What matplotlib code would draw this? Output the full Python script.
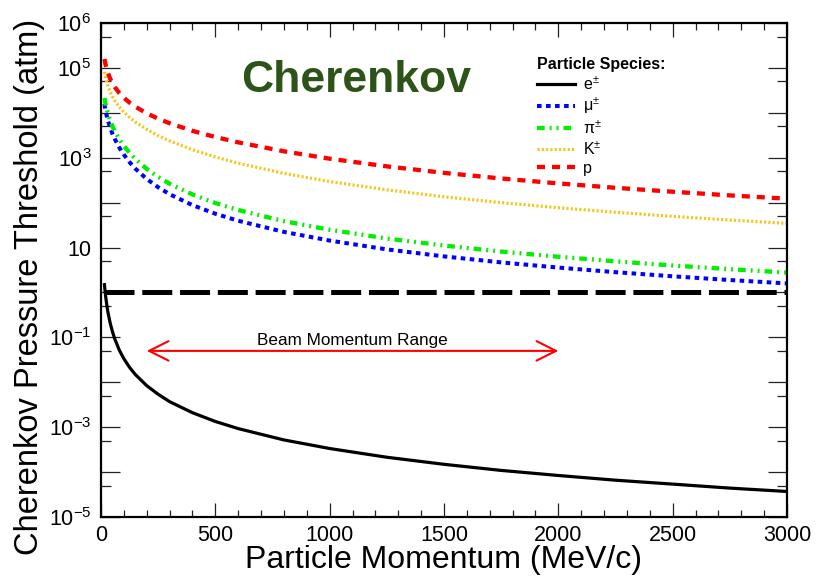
import numpy as np
import matplotlib
matplotlib.use("Agg")
from matplotlib import pyplot as plt
from matplotlib.ticker import FixedLocator, MultipleLocator, FixedFormatter

plt.rcParams['font.family'] = ['Liberation Sans', 'DejaVu Sans']
plt.rcParams['mathtext.fontset'] = 'custom'
plt.rcParams['mathtext.rm'] = 'Liberation Sans'
plt.rcParams['mathtext.it'] = 'Liberation Sans:italic'
plt.rcParams['mathtext.bf'] = 'Liberation Sans:bold'
plt.rcParams['lines.scale_dashes'] = False

# momentum points (MeV/c) and thresholds (atm)
momentum = [15, 20, 25, 30, 40, 50, 60, 80, 100, 125, 150, 200, 250, 300, 400,
            500, 600, 800, 1000, 1250, 1500, 1750, 2000, 2250, 2500, 2750, 3000]
electron = [1.49, 0.84, 0.54, 0.37, 0.21, 0.134, 0.093, 0.052, 0.0335, 0.0214,
            0.0149, 0.0084, 0.0054, 0.0037, 0.0021, 0.00134, 0.00093, 0.00052,
            3.35e-4, 2.14e-4, 1.49e-4, 1.09e-4, 8.4e-5, 6.6e-5, 5.4e-5, 4.4e-5, 3.7e-5]
muon = [15700, 11200, 8570, 6820, 4680, 3430, 2630, 1680, 1170, 793, 572, 336,
        220, 154, 88, 56.6, 39.5, 22.3, 14.3, 9.1, 6.35, 4.67, 3.58, 2.83, 2.29,
        1.89, 1.59]
pion = [21400, 15500, 12000, 9640, 6740, 5040, 3930, 2590, 1840, 1280, 938, 563,
        373, 264, 152, 98, 68.5, 38.7, 24.9, 15.9, 11.1, 8.14, 6.24, 4.93, 3.99,
        3.30, 2.77]
kaon = [81900, 60800, 48100, 39700, 29200, 22900, 18700, 13500, 10350, 7880,
        6260, 4270, 3110, 2370, 1510, 1040, 756, 449, 295, 193, 135, 100, 77,
        61, 49.5, 41, 34.5]
proton = [158000, 118000, 93700, 77700, 57600, 45600, 37600, 27600, 21600,
          16850, 13700, 9740, 7400, 5860, 3970, 2890, 2200, 1390, 952, 642, 460,
          345, 268, 214, 175, 145, 122.5]

ref_x = [15, 3000]
ref_y = [1.0, 1.0]
beam_range = [200, 2000]
beam_y = 0.05

y_major = [1e-5, 1e-4, 1e-3, 1e-2, 1e-1, 1, 10, 1e2, 1e3, 1e4, 1e5, 1e6]
y_labels = [r'$\mathregular{10^{-5}}$', '', r'$\mathregular{10^{-3}}$', '',
            r'$\mathregular{10^{-1}}$', '', '10', '', r'$\mathregular{10^{3}}$',
            '', r'$\mathregular{10^{5}}$', r'$\mathregular{10^{6}}$']
y_minor = [5e-5, 5e-4, 5e-3, 5e-2, 0.5, 5, 50, 5e2, 5e3, 5e4, 5e5]

fig = plt.figure(figsize=(8.27, 5.76), dpi=100)
ax = fig.add_axes([101/827, 1-517/576, 686/827, 494/576])

ax.plot(momentum, electron, color='black', lw=2.3, label=r'$\mathregular{e^{\pm}}$')
ax.plot(momentum, muon, color='#0000ff', lw=2.9, linestyle=(0, (3.3, 3.2)),
        label=r'$\mathregular{\mu^{\pm}}$')
ax.plot(momentum, pion, color='#00ee00', lw=3.1,
        linestyle=(0, (5.5, 3.6, 1.4, 3.6, 1.4, 3.6)), label=r'$\mathregular{\pi^{\pm}}$')
ax.plot(momentum, kaon, color='#f5c518', lw=2.3, linestyle=(0, (1.5, 1.6)),
        label=r'$\mathregular{K^{\pm}}$')
ax.plot(momentum, proton, color='#ff0000', lw=3.1, linestyle=(0, (5.8, 5.0)),
        label='p')
ax.plot(ref_x, ref_y, color='black', lw=3.6, linestyle=(0, (21.6, 5.6)))

ax.annotate('', xy=(beam_range[0], beam_y), xytext=(beam_range[1], beam_y),
            arrowprops=dict(arrowstyle='<->,head_length=0.7,head_width=0.35',
                            color='#ff0000', lw=1.5, mutation_scale=20,
                            shrinkA=0, shrinkB=0))
ax.text(1100, 0.085, 'Beam Momentum Range', fontsize=12.3, ha='center', va='center')

ax.text(1115, 5.3e4, 'Cherenkov', fontsize=32, fontweight='bold', color='#2d5418',
        ha='center', va='center')

ax.set_xscale('linear')
ax.set_yscale('log')
ax.set_xlim(0, 3000)
ax.set_ylim(1e-5, 1e6)

ax.xaxis.set_major_locator(MultipleLocator(500))
ax.xaxis.set_minor_locator(MultipleLocator(100))
ax.yaxis.set_major_locator(FixedLocator(y_major))
ax.yaxis.set_major_formatter(FixedFormatter(y_labels))
ax.yaxis.set_minor_locator(FixedLocator(y_minor))
ax.yaxis.set_minor_formatter(FixedFormatter([''] * len(y_minor)))

ax.tick_params(which='both', direction='in', top=True, right=True, width=0.9,
               labelsize=15.5, color='#222222')
ax.tick_params(axis='y', which='major', length=14, pad=7)
ax.tick_params(axis='y', which='minor', length=7)
ax.tick_params(axis='x', which='major', length=10, pad=6)
ax.tick_params(axis='x', which='minor', length=5)
for s in ax.spines.values():
    s.set_linewidth(1.6)

ax.set_xlabel('Particle Momentum (MeV/c)', fontsize=23, labelpad=-1)
ax.set_ylabel('Cherenkov Pressure Threshold (atm)', fontsize=23.5)
ax.yaxis.set_label_coords(-0.082, 0.466)

leg = ax.legend(loc='upper left', bbox_to_anchor=(537/827, 1-57/576),
                bbox_transform=fig.transFigure, frameon=False, fontsize=11.5,
                title='Particle Species:', alignment='left', handlelength=2.4,
                handletextpad=0.45, labelspacing=0.21, borderpad=0, borderaxespad=0)
leg.get_title().set_fontweight('bold')
leg.get_title().set_fontsize(11.5)

fig.savefig('out.png', dpi=100)
